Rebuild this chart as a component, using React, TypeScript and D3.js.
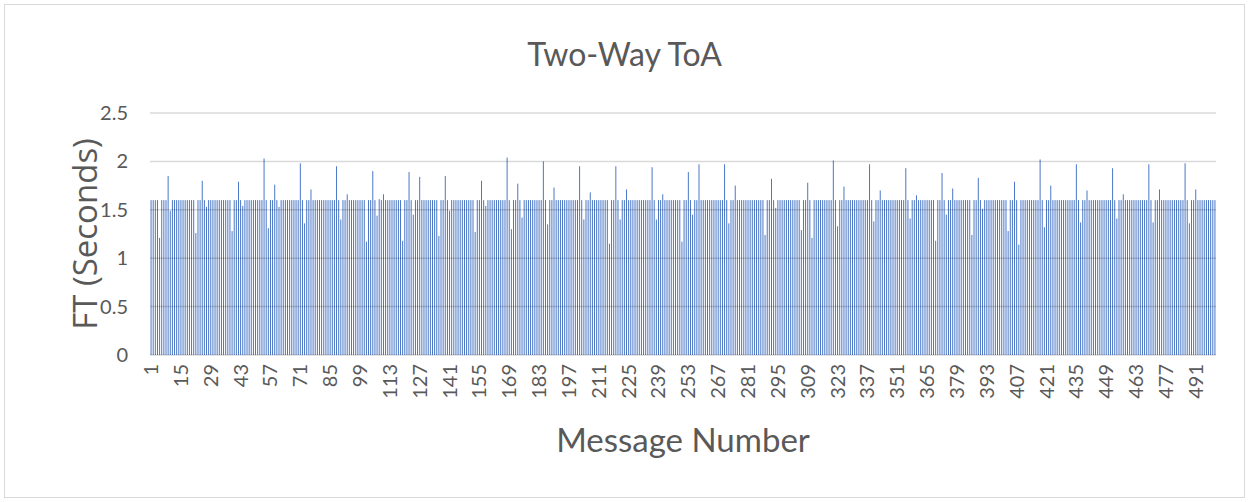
import React, { useEffect, useRef } from 'react';
import * as d3 from 'd3';

// message numbers 1..500, most sit at the 1.6 s baseline
const messageCount = 500;
const baselineFT = 1.6;

// messages that differ from the baseline
const devMessages = [
  5, 9, 10, 22, 25, 27, 39, 42, 44, 54, 56, 59, 61, 71, 73, 76, 88, 90, 93,
  102, 105, 107, 108, 110, 119, 122, 124, 127, 136, 139, 141, 153, 156, 158,
  168, 170, 173, 175, 185, 187, 190, 202, 204, 207, 216, 219, 221, 224, 236,
  238, 241, 250, 253, 255, 258, 270, 272, 275, 289, 292, 294, 306, 309, 311,
  321, 323, 326, 338, 340, 343, 355, 357, 360, 369, 372, 374, 377, 386, 389,
  391, 403, 406, 408, 418, 420, 423, 435, 437, 440, 452, 454, 457, 469, 471,
  474, 486, 488, 491,
];
const devValues = [
  1.21, 1.85, 1.49, 1.26, 1.8, 1.53, 1.28, 1.79, 1.54, 2.03, 1.31, 1.76, 1.53,
  1.98, 1.36, 1.71, 1.95, 1.4, 1.66, 1.17, 1.9, 1.44, 1.61, 1.66, 1.18, 1.89,
  1.45, 1.84, 1.23, 1.85, 1.49, 1.27, 1.8, 1.54, 2.04, 1.3, 1.77, 1.42, 2.0,
  1.35, 1.73, 1.95, 1.4, 1.68, 1.15, 1.95, 1.4, 1.71, 1.94, 1.4, 1.66, 1.17,
  1.89, 1.45, 1.97, 1.97, 1.36, 1.75, 1.24, 1.82, 1.52, 1.29, 1.78, 1.21, 2.01,
  1.33, 1.74, 1.97, 1.38, 1.7, 1.93, 1.41, 1.65, 1.18, 1.88, 1.45, 1.72, 1.24,
  1.83, 1.51, 1.28, 1.79, 1.14, 2.02, 1.32, 1.75, 1.97, 1.37, 1.7, 1.93, 1.41,
  1.66, 1.97, 1.37, 1.71, 1.98, 1.36, 1.71,
];

const yTicks = [0, 0.5, 1, 1.5, 2, 2.5];

const App = () => {
  const svgRef = useRef(null);

  useEffect(() => {
    const svg = d3.select(svgRef.current);
    svg.selectAll('*').remove();

    const width = 1249;
    const height = 502;
    const margin = { top: 113, right: 33, bottom: 147, left: 150 };
    const font = 'Lato, "Open Sans", sans-serif';
    const textColor = '#595959';

    const devMap = new Map(devMessages.map((m, i) => [m, devValues[i]]));
    const messages = d3.range(1, messageCount + 1);
    const data = messages.map(m => ({ msg: m, ft: devMap.has(m) ? devMap.get(m) : baselineFT }));

    svg.attr('width', width).attr('height', height);

    // chart area border
    svg.append('rect')
      .attr('x', 4.5).attr('y', 4.5)
      .attr('width', width - 9).attr('height', height - 9)
      .attr('fill', '#fff')
      .attr('stroke', '#d9d9d9');

    const x = d3.scaleBand()
      .domain(messages)
      .range([margin.left, width - margin.right])
      .paddingInner(0.55)
      .paddingOuter(0.275);

    const y = d3.scaleLinear()
      .domain([0, 2.5])
      .range([height - margin.bottom, margin.top]);

    // bars
    svg.append('g')
      .selectAll('rect')
      .data(data)
      .enter()
      .append('rect')
      .attr('x', d => x(d.msg))
      .attr('width', x.bandwidth())
      .attr('y', d => y(d.ft))
      .attr('height', d => y(0) - y(d.ft))
      .attr('fill', '#4472c4');

    // gridlines (drawn over the thin bars, like the original)
    svg.append('g')
      .selectAll('line')
      .data(yTicks)
      .enter()
      .append('line')
      .attr('x1', margin.left)
      .attr('x2', width - margin.right)
      .attr('y1', d => y(d))
      .attr('y2', d => y(d))
      .attr('stroke', '#000')
      .attr('stroke-opacity', 0.15)
      .attr('stroke-width', 1.5);

    // y tick labels
    svg.append('g')
      .selectAll('text')
      .data(yTicks)
      .enter()
      .append('text')
      .attr('x', 128)
      .attr('y', d => y(d))
      .attr('dy', '0.35em')
      .attr('text-anchor', 'end')
      .style('font-family', font)
      .style('font-size', '20px')
      .attr('fill', textColor)
      .text(d => d);

    // x tick labels, every 14th message
    const xLabels = messages.filter(m => (m - 1) % 14 === 0);
    svg.append('g')
      .selectAll('text')
      .data(xLabels)
      .enter()
      .append('text')
      .attr('transform', d => `translate(${x(d) + x.bandwidth() / 2}, ${y(0) + 9}) rotate(-90)`)
      .attr('dy', '0.35em')
      .attr('text-anchor', 'end')
      .style('font-family', font)
      .style('font-size', '20px')
      .attr('fill', textColor)
      .text(d => d);

    // title
    svg.append('text')
      .attr('x', width / 2)
      .attr('y', 66)
      .attr('text-anchor', 'middle')
      .style('font-family', font)
      .style('font-size', '32px')
      .attr('fill', textColor)
      .text('Two-Way ToA');

    // axis titles
    svg.append('text')
      .attr('x', (margin.left + width - margin.right) / 2)
      .attr('y', 452)
      .attr('text-anchor', 'middle')
      .style('font-family', font)
      .style('font-size', '33px')
      .attr('fill', textColor)
      .text('Message Number');

    svg.append('text')
      .attr('transform', `translate(97, ${y(1.25)}) rotate(-90)`)
      .attr('text-anchor', 'middle')
      .style('font-family', '"Open Sans", sans-serif')
      .style('font-size', '33px')
      .attr('fill', textColor)
      .text('FT (Seconds)');
  }, []);

  return <svg ref={svgRef} style={{ position: 'absolute', left: 0, top: 0 }}></svg>;
};

export default App;
